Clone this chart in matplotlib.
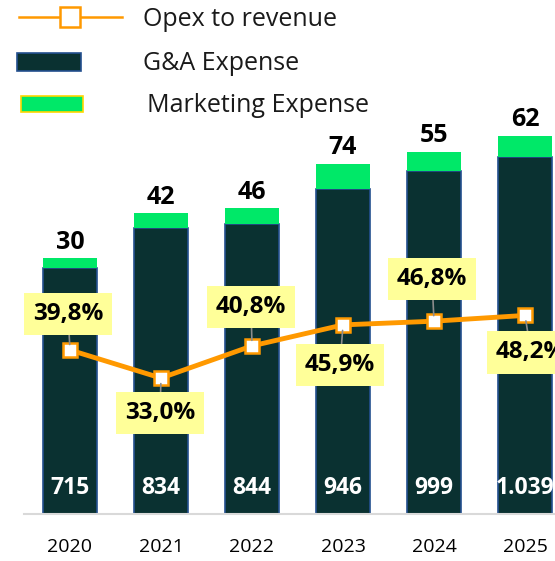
#!/usr/bin/env python3
"""
Stacked G&A / Marketing expense bars with opex-to-revenue line.
Writes out.png
"""

import matplotlib
matplotlib.use('Agg')
from matplotlib import pyplot as plt
from matplotlib.lines import Line2D
from matplotlib.patches import Rectangle

years = ['2020', '2021', '2022', '2023', '2024', '2025']
ga_expense = [715, 834, 844, 946, 999, 1039]
mkt_expense = [30, 42, 46, 74, 55, 62]
opex_ratio = [39.8, 33.0, 40.8, 45.9, 46.8, 48.2]

ga_labels = ['715', '834', '844', '946', '999', '1.039']
ratio_labels = ['39,8%', '33,0%', '40,8%', '45,9%', '46,8%', '48,2%']

# label offsets (pixels) from the line markers
label_offsets = [(-2, 36), (-1, -35), (-1, 39), (-3, -40), (-2, 42), (6, -37)]

GA_COLOR = '#0a3131'
GA_EDGE = '#24508f'
MKT_COLOR = '#00e868'
LINE_COLOR = '#ff9900'
BOX_COLOR = '#ffff99'

plt.rcParams['font.family'] = ['Open Sans', 'DejaVu Sans']

W, H = 555, 561
fig = plt.figure(figsize=(W / 100, H / 100), dpi=100)

base_y = 514
left_x = 24
ax = fig.add_axes([left_x / W, (H - base_y) / H, (W - left_x) / W, base_y / H])
ax2 = ax.twinx()

x = list(range(len(years)))
ax.bar(x, ga_expense, width=0.6, color=GA_COLOR, edgecolor=GA_EDGE,
       linewidth=1.2, zorder=2)
ax.bar(x, mkt_expense, bottom=ga_expense, width=0.6, color=MKT_COLOR,
       linewidth=0, zorder=2)

ax.set_xlim((left_x - 70) / 91, (W - 70) / 91)
ax.set_ylim(0, base_y / 0.3435)
ax2.set_ylim(0, base_y / 4.12)

# marketing values on top, G&A values inside bars
for i in x:
    ax.annotate(str(mkt_expense[i]), xy=(i, ga_expense[i] + mkt_expense[i]),
                xytext=(0, 16), textcoords='offset pixels', ha='center',
                va='center', fontsize=18, fontweight='bold', color='black')
    ax.annotate(ga_labels[i], xy=(i, 0), xytext=(0, 26),
                textcoords='offset pixels', ha='center', va='center',
                fontsize=16.5, fontweight='bold', color='white', zorder=3)

ax2.plot(x, opex_ratio, color=LINE_COLOR, lw=3.5, marker='s', markersize=10,
         markerfacecolor='white', markeredgecolor=LINE_COLOR,
         markeredgewidth=1.8, zorder=4, clip_on=False)

for i in x:
    dx, dy = label_offsets[i]
    ax2.annotate(ratio_labels[i], xy=(i, opex_ratio[i]), xytext=(dx, dy),
                 textcoords='offset pixels', ha='center', va='center',
                 fontsize=17.5, fontweight='bold', color='black', zorder=5,
                 bbox=dict(boxstyle='square,pad=0.38', fc=BOX_COLOR,
                           ec='none'),
                 arrowprops=dict(arrowstyle='-', color='#8c8c8c', lw=1.2,
                                 shrinkA=0, shrinkB=4))

ax.set_xticks(x)
ax.set_xticklabels(years, fontsize=14)
ax.tick_params(axis='x', length=0, pad=17)
ax.set_yticks([])
ax2.set_yticks([])
for a in (ax, ax2):
    for side in ('top', 'right', 'left', 'bottom'):
        a.spines[side].set_visible(False)
ax.spines['bottom'].set_visible(True)
ax.spines['bottom'].set_color('#d9d9d9')
ax.spines['bottom'].set_linewidth(1.5)
ax.patch.set_alpha(0)


# legend, drawn by hand in pixel coordinates
def px(xp, yp):
    return xp / W, (H - yp) / H


fig.add_artist(Line2D([19 / W, 122 / W], [px(0, 17)[1]] * 2,
                      color=LINE_COLOR, lw=1.8))
fig.add_artist(Line2D([70 / W], [px(0, 17)[1]], marker='s', markersize=14,
                      markerfacecolor='white', markeredgecolor=LINE_COLOR,
                      markeredgewidth=1.8))
fig.add_artist(Rectangle(px(17, 71), 64 / W, 18 / H, facecolor=GA_COLOR,
                         edgecolor=GA_EDGE, lw=1.2))
fig.add_artist(Rectangle(px(21, 112), 62 / W, 16 / H, facecolor=MKT_COLOR,
                         edgecolor='#ffd700', lw=1.2))
legend_text = [('Opex to revenue', 143, 19), ('G&A Expense', 143, 63),
               ('Marketing Expense', 147, 105)]
for label, tx, ty in legend_text:
    fig.text(*px(tx, ty), label, fontsize=18, va='center', ha='left',
             color='#1a1a1a')

fig.savefig('out.png', dpi=100)
